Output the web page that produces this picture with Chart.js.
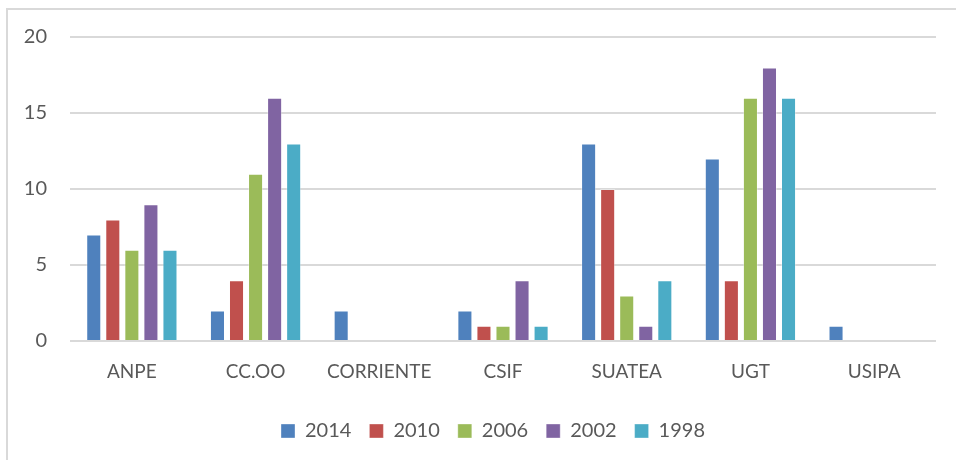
<!DOCTYPE html>
<html>
<head>
<meta charset="utf-8">
<script src="https://cdn.jsdelivr.net/npm/chart.js@4.4.1/dist/chart.umd.min.js"></script>
<style>
    body { margin: 0; background: #fff; }
    canvas { display: block; }
</style>
</head>
<body>
<canvas id="unionChart" width="956" height="460"></canvas>
<script>
// Categories and series
const unions = ["ANPE", "CC.OO", "CORRIENTE", "CSIF", "SUATEA", "UGT", "USIPA"];
const years = ["2014", "2010", "2006", "2002", "1998"];
const values2014 = [7, 2, 2, 2, 13, 12, 1];
const values2010 = [8, 4, 0, 1, 10, 4, 0];
const values2006 = [6, 11, 0, 1, 3, 16, 0];
const values2002 = [9, 16, 0, 4, 1, 18, 0];
const values1998 = [6, 13, 0, 1, 4, 16, 0];
const yTicks = [0, 5, 10, 15, 20];

const colors = ["#4f81bd", "#c0504d", "#9bbb59", "#8064a2", "#4bacc6"];
const seriesValues = [values2014, values2010, values2006, values2002, values1998];

const fontFamily = "Lato, 'Open Sans', sans-serif";
const textColor = "#595959";
const gridColor = "#d9d9d9";

// Outer frame of the chart box (only top and left edges are visible)
const framePlugin = {
    id: "frame",
    beforeDraw(chart) {
        const ctx = chart.ctx;
        ctx.save();
        ctx.strokeStyle = gridColor;
        ctx.lineWidth = 2;
        ctx.beginPath();
        ctx.moveTo(7, chart.height);
        ctx.lineTo(7, 9);
        ctx.lineTo(chart.width, 9);
        ctx.stroke();
        ctx.restore();
    },
};

// Legend sits a bit right of the canvas centre in the reference
const legendShift = {
    id: "legendShift",
    afterLayout(chart) {
        if (chart.legend) {
            chart.legend.left += 50;
        }
    },
};

new Chart(document.getElementById("unionChart"), {
    type: "bar",
    data: {
        labels: unions,
        datasets: years.map((year, i) => ({
            label: year,
            data: seriesValues[i],
            backgroundColor: colors[i],
            borderColor: "rgba(255, 255, 255, 0.35)",
            borderWidth: 1,
            categoryPercentage: 0.77,
            barPercentage: 0.79,
        })),
    },
    options: {
        responsive: false,
        animation: false,
        layout: {
            padding: { top: 37, right: 20, bottom: 9, left: 0 },
        },
        plugins: {
            tooltip: { enabled: false },
            legend: {
                position: "bottom",
                labels: {
                    boxWidth: 14,
                    boxHeight: 14,
                    padding: 18,
                    color: textColor,
                    font: { family: fontFamily, size: 20 },
                },
            },
        },
        scales: {
            x: {
                grid: { display: false, drawTicks: false },
                border: { display: false },
                ticks: {
                    color: textColor,
                    padding: 19,
                    font: { family: fontFamily, size: 19 },
                },
                afterFit(scale) {
                    scale.height = 62;
                },
            },
            y: {
                min: 0,
                max: 20,
                afterBuildTicks(scale) {
                    scale.ticks = yTicks.map((v) => ({ value: v }));
                },
                grid: { color: gridColor, lineWidth: 2, drawTicks: false },
                border: { display: false },
                ticks: {
                    color: textColor,
                    padding: 23,
                    font: { family: fontFamily, size: 20 },
                },
                afterFit(scale) {
                    scale.width = 70;
                },
            },
        },
    },
    plugins: [framePlugin, legendShift],
});
</script>
</body>
</html>
